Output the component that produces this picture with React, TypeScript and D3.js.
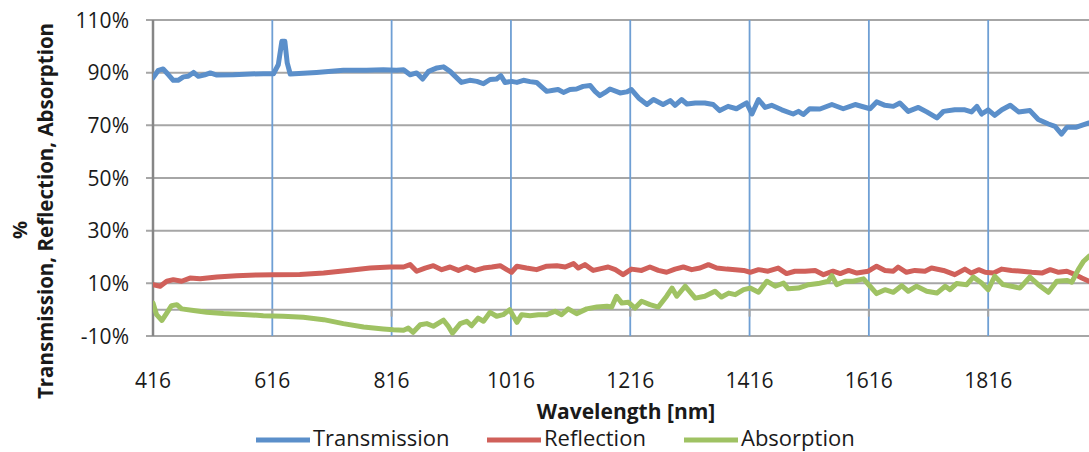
import React from 'react';
import * as d3 from 'd3';

const width = 1089;
const height = 452;
const margin = { top: 20, right: 0, bottom: 116, left: 153 };
const font = '"Open Sans", sans-serif';

const blue = '#5b8fca';
const red = '#d0605a';
const green = '#9fc263';
const gridGray = '#a6a6a6';
const axisGray = '#868686';
const vGridBlue = '#6f9fd4';

// wavelength [nm], percent
const transmission: [number, number][] = [
  [416, 88.0], [425, 90.9], [433, 91.4], [442, 89.2], [450, 87.1], [458, 87.1], [467, 88.4],
  [475, 88.6], [484, 90.1], [492, 88.6], [503, 89.2], [512, 89.9], [523, 89.1], [551, 89.2],
  [579, 89.5], [601, 89.6], [618, 89.6], [626, 93.0], [632, 101.9], [637, 101.9], [641, 93.7],
  [646, 89.5], [690, 90.1], [735, 90.9], [774, 90.9], [802, 91.1], [824, 90.9], [836, 91.1],
  [847, 89.2], [858, 89.9], [868, 87.6], [878, 90.5], [892, 91.8], [903, 92.2], [914, 90.5],
  [933, 86.3], [947, 87.1], [959, 86.7], [970, 85.8], [981, 87.4], [992, 87.6], [999, 88.9],
  [1006, 86.3], [1017, 86.7], [1026, 86.3], [1037, 87.1], [1048, 86.6], [1059, 86.3],
  [1076, 82.9], [1087, 83.3], [1095, 83.6], [1104, 82.5], [1115, 83.6], [1126, 83.8],
  [1137, 84.8], [1149, 85.1], [1157, 82.9], [1165, 81.3], [1174, 82.5], [1182, 83.8],
  [1199, 82.3], [1210, 82.7], [1218, 83.6], [1230, 80.4], [1244, 77.9], [1255, 79.8],
  [1271, 77.9], [1283, 79.4], [1291, 77.6], [1302, 79.8], [1311, 78.1], [1325, 78.5],
  [1341, 78.5], [1355, 77.9], [1366, 75.6], [1380, 77.2], [1394, 76.3], [1411, 78.5],
  [1420, 74.3], [1431, 79.8], [1442, 76.8], [1453, 77.6], [1470, 75.9], [1489, 74.3],
  [1498, 75.3], [1506, 74.1], [1517, 76.3], [1534, 76.2], [1554, 77.9], [1573, 76.3],
  [1593, 77.9], [1618, 76.3], [1629, 78.9], [1643, 77.6], [1657, 77.2], [1668, 78.5],
  [1682, 75.3], [1699, 76.8], [1713, 75.1], [1730, 72.8], [1741, 75.3], [1760, 75.9],
  [1777, 75.9], [1788, 75.1], [1797, 77.2], [1805, 74.3], [1816, 75.9], [1827, 73.8],
  [1839, 75.9], [1853, 77.6], [1867, 75.1], [1886, 75.6], [1900, 72.2], [1917, 70.5],
  [1928, 69.6], [1939, 66.7], [1948, 69.3], [1964, 69.3], [1985, 70.9],
];

const reflection: [number, number][] = [
  [416, 9.5], [428, 8.9], [439, 10.8], [450, 11.4], [464, 10.8], [478, 12.0], [495, 11.7],
  [523, 12.4], [556, 12.9], [590, 13.2], [618, 13.3], [662, 13.4], [702, 13.9], [746, 15.0],
  [780, 15.8], [813, 16.2], [836, 16.2], [847, 17.1], [858, 14.6], [872, 15.8], [886, 16.7],
  [900, 15.2], [914, 16.2], [928, 14.9], [942, 16.2], [956, 14.9], [970, 15.8], [984, 16.2],
  [998, 16.7], [1009, 15.2], [1017, 14.2], [1026, 16.5], [1042, 15.8], [1059, 15.2],
  [1076, 16.5], [1093, 16.7], [1107, 16.2], [1121, 17.5], [1129, 15.8], [1140, 17.1],
  [1154, 14.9], [1165, 15.5], [1179, 16.2], [1191, 15.2], [1204, 13.3], [1218, 15.4],
  [1235, 14.9], [1249, 16.2], [1263, 14.9], [1277, 14.2], [1291, 15.4], [1305, 16.2],
  [1319, 15.2], [1333, 15.8], [1347, 17.1], [1361, 15.8], [1378, 15.4], [1392, 15.2],
  [1406, 14.9], [1417, 14.2], [1431, 15.2], [1447, 14.6], [1464, 15.8], [1478, 13.7],
  [1492, 14.6], [1509, 14.6], [1526, 14.9], [1540, 13.3], [1556, 14.6], [1568, 13.7],
  [1582, 14.9], [1596, 13.9], [1615, 14.6], [1629, 16.5], [1643, 14.9], [1657, 14.6],
  [1665, 16.2], [1679, 14.2], [1693, 14.9], [1710, 14.6], [1721, 15.8], [1741, 14.9],
  [1760, 13.3], [1777, 15.4], [1788, 13.9], [1800, 15.2], [1811, 14.2], [1825, 13.9],
  [1839, 15.4], [1855, 14.9], [1872, 14.6], [1889, 14.2], [1906, 13.9], [1920, 15.2],
  [1934, 14.2], [1948, 14.6], [1962, 13.3], [1973, 12.0], [1985, 10.8],
];

const absorption: [number, number][] = [
  [416, 2.5], [422, -1.9], [431, -4.1], [439, -1.3], [447, 1.5], [456, 1.9], [464, 0.3],
  [484, -0.3], [506, -1.0], [534, -1.5], [567, -1.8], [601, -2.3], [634, -2.5], [668, -2.9],
  [702, -3.8], [735, -5.3], [769, -6.6], [802, -7.3], [819, -7.6], [836, -7.8], [844, -7.0],
  [852, -8.6], [864, -5.7], [875, -5.3], [886, -6.3], [903, -4.0], [911, -6.3], [918, -8.9],
  [931, -5.3], [942, -4.4], [950, -6.1], [961, -3.2], [970, -4.4], [981, -1.0], [992, -2.5],
  [1003, -1.9], [1014, 0.0], [1026, -4.8], [1034, -1.9], [1048, -2.3], [1062, -1.9],
  [1076, -1.9], [1090, -0.6], [1101, -1.9], [1112, 0.3], [1126, -1.5], [1143, 0.3],
  [1160, 1.0], [1177, 1.3], [1185, 1.0], [1193, 5.1], [1202, 2.5], [1213, 2.8], [1224, 0.6],
  [1235, 3.2], [1249, 1.9], [1263, 1.0], [1277, 5.1], [1286, 8.2], [1294, 5.1], [1308, 8.9],
  [1325, 4.4], [1341, 5.1], [1358, 7.0], [1369, 4.8], [1381, 6.3], [1392, 5.7], [1406, 7.6],
  [1417, 8.2], [1431, 6.6], [1445, 10.8], [1459, 8.9], [1473, 10.1], [1481, 7.9], [1498, 8.2],
  [1515, 9.5], [1531, 9.9], [1548, 10.8], [1554, 12.9], [1562, 9.5], [1576, 10.8],
  [1590, 10.8], [1607, 11.7], [1618, 8.9], [1629, 6.1], [1643, 7.6], [1657, 6.6], [1671, 9.1],
  [1682, 7.0], [1696, 8.9], [1713, 7.0], [1730, 6.3], [1744, 8.9], [1752, 7.6], [1763, 9.9],
  [1780, 9.5], [1791, 12.4], [1805, 10.1], [1816, 7.6], [1827, 12.7], [1841, 9.5],
  [1855, 8.9], [1869, 8.2], [1886, 12.4], [1900, 9.5], [1917, 6.6], [1931, 10.8], [1948, 11.1],
  [1956, 10.4], [1967, 15.2], [1976, 18.4], [1985, 20.3],
];

const xTicks = [416, 616, 816, 1016, 1216, 1416, 1616, 1816];
const yTicks = [-10, 10, 30, 50, 70, 90, 110];

const series = [
  { name: 'Transmission', data: transmission, color: blue },
  { name: 'Reflection', data: reflection, color: red },
  { name: 'Absorption', data: absorption, color: green },
];

const legendPos = [256, 487, 684]; // line start for each legend item

export default function App() {
  const x = d3.scaleLinear().domain([416, 1985]).range([margin.left, width - margin.right]);
  const y = d3.scaleLinear().domain([-10, 110]).range([height - margin.bottom, margin.top]);
  const line = d3.line<[number, number]>().x(d => x(d[0])).y(d => y(d[1]));

  return (
    <svg width={width} height={height} style={{ position: 'absolute', left: 0, top: 0, background: '#fff' }}>
      <defs>
        <clipPath id="plot">
          <rect x={margin.left} y={0} width={width - margin.left} height={height - margin.bottom + 10} />
        </clipPath>
      </defs>

      {/* horizontal grid */}
      {yTicks.map(t => (
        <line key={t} x1={margin.left - 7} x2={width} y1={y(t)} y2={y(t)} stroke={gridGray} strokeWidth={2} />
      ))}
      {/* vertical grid */}
      {xTicks.slice(1).map(t => (
        <line key={t} x1={x(t)} x2={x(t)} y1={y(110)} y2={y(-10)} stroke={vGridBlue} strokeWidth={1.8} />
      ))}
      {/* x axis at 0% */}
      <line x1={margin.left} x2={width} y1={y(0)} y2={y(0)} stroke={gridGray} strokeWidth={2} />
      {xTicks.map(t => (
        <line key={t} x1={x(t)} x2={x(t)} y1={y(0)} y2={y(0) + 7} stroke={gridGray} strokeWidth={2} />
      ))}
      {/* y axis */}
      <line x1={margin.left} x2={margin.left} y1={y(110)} y2={y(-10)} stroke={axisGray} strokeWidth={2.5} />

      <g clipPath="url(#plot)">
        {series.map(s => (
          <path key={s.name} d={line(s.data) || ''} fill="none" stroke={s.color} strokeWidth={5}
            strokeLinejoin="round" strokeLinecap="round" />
        ))}
      </g>

      {/* tick labels */}
      {yTicks.map(t => (
        <text key={t} x={129} y={y(t)} dy="0.36em" textAnchor="end" fontFamily={font} fontSize={21} fill="#1a1a1a">
          {t}%
        </text>
      ))}
      {xTicks.map(t => (
        <text key={t} x={x(t)} y={380} dy="0.36em" textAnchor="middle" fontFamily={font} fontSize={21} fill="#1a1a1a">
          {t}
        </text>
      ))}

      {/* axis titles */}
      <text x={626} y={411} dy="0.36em" textAnchor="middle" fontFamily={font} fontSize={21} fontWeight="bold" fill="#1a1a1a">
        Wavelength [nm]
      </text>
      <text transform="translate(20,230) rotate(-90)" dy="0.36em" textAnchor="middle" fontFamily={font} fontSize={20} fontWeight="bold" fill="#1a1a1a">
        %
      </text>
      <text transform="translate(46,211) rotate(-90)" dy="0.36em" textAnchor="middle" fontFamily={font} fontSize={20.5} fontWeight="bold" fill="#1a1a1a">
        Transmission, Reflection, Absorption
      </text>

      {/* legend */}
      {series.map((s, i) => (
        <g key={s.name}>
          <line x1={legendPos[i]} x2={legendPos[i] + 54} y1={440} y2={440} stroke={s.color} strokeWidth={5} />
          <text x={legendPos[i] + 57} y={438} dy="0.36em" fontFamily={font} fontSize={22} fill="#1a1a1a">
            {s.name}
          </text>
        </g>
      ))}
    </svg>
  );
}
